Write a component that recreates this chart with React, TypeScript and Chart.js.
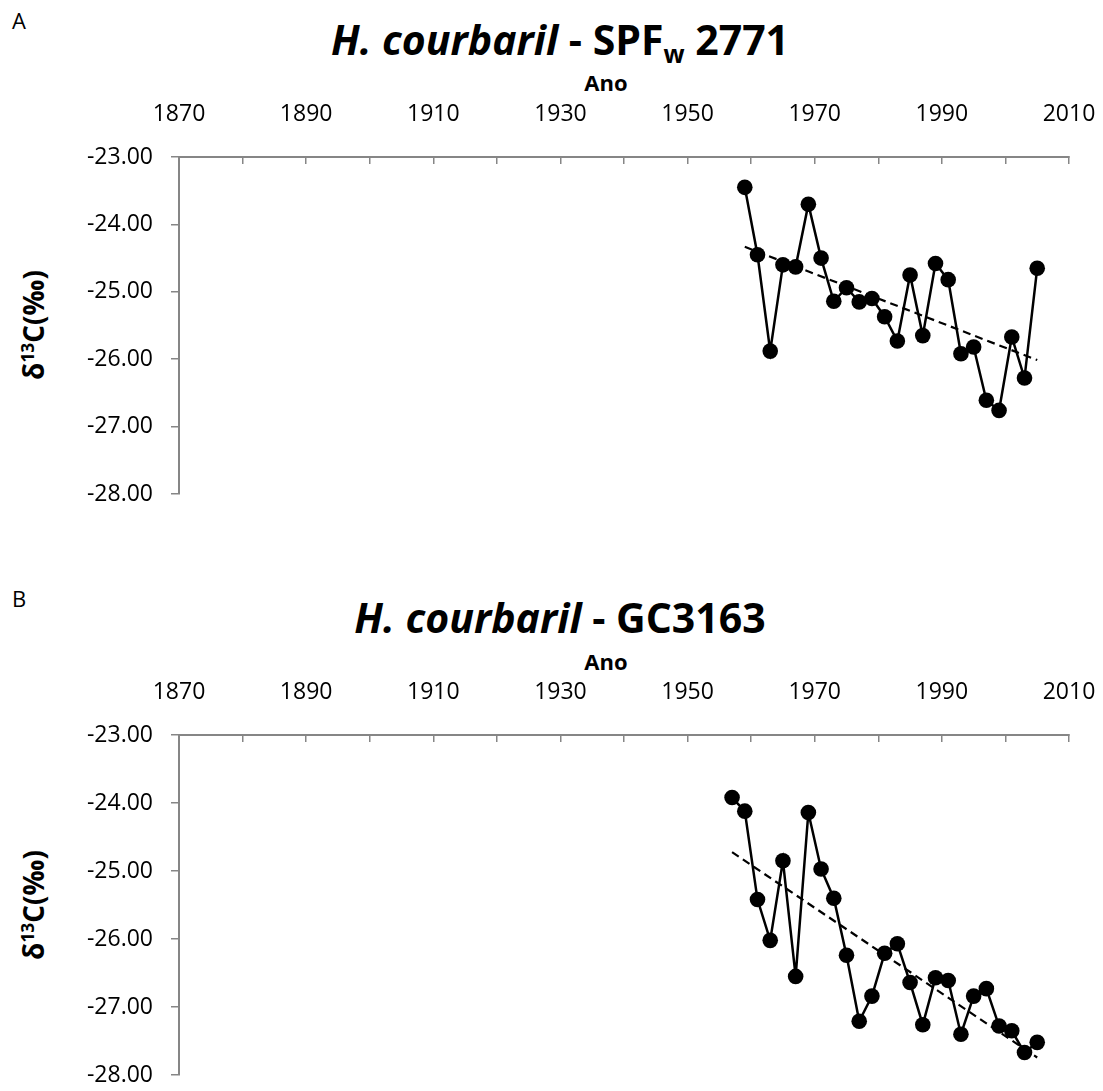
import React, { useEffect, useRef } from 'react';
import { Chart, registerables } from 'chart.js';

Chart.register(...registerables);

// ---- Data ----
const yearsA = [1959, 1961, 1963, 1965, 1967, 1969, 1971, 1973, 1975, 1977, 1979, 1981, 1983, 1985, 1987, 1989, 1991, 1993, 1995, 1997, 1999, 2001, 2003, 2005];
const valuesA = [-23.45, -24.45, -25.88, -24.6, -24.63, -23.7, -24.5, -25.14, -24.94, -25.15, -25.1, -25.37, -25.73, -24.75, -25.65, -24.58, -24.82, -25.92, -25.82, -26.61, -26.76, -25.67, -26.28, -24.65];

const yearsB = [1957, 1959, 1961, 1963, 1965, 1967, 1969, 1971, 1973, 1975, 1977, 1979, 1981, 1983, 1985, 1987, 1989, 1991, 1993, 1995, 1997, 1999, 2001, 2003, 2005];
const valuesB = [-23.92, -24.12, -25.42, -26.02, -24.85, -26.55, -24.14, -24.97, -25.4, -26.24, -27.21, -26.84, -26.21, -26.07, -26.64, -27.26, -26.57, -26.61, -27.4, -26.84, -26.73, -27.28, -27.35, -27.67, -27.52];

const xTickLabels = ['1870', '1890', '1910', '1930', '1950', '1970', '1990', '2010'];
const xMin = 1870;
const xMax = 2010;
const xStep = 10;
const yMin = -28;
const yMax = -23;
const yStep = 1;

const AXIS_GRAY = '#868686';
const FONT = '"Open Sans", "DejaVu Sans", sans-serif';

function linearTrend(xs: number[], ys: number[]) {
  const n = xs.length;
  const mx = xs.reduce((a, b) => a + b, 0) / n;
  const my = ys.reduce((a, b) => a + b, 0) / n;
  let sxy = 0;
  let sxx = 0;
  for (let i = 0; i < n; i++) {
    sxy += (xs[i] - mx) * (ys[i] - my);
    sxx += (xs[i] - mx) * (xs[i] - mx);
  }
  const slope = sxy / sxx;
  const b = my - slope * mx;
  const x0 = xs[0];
  const x1 = xs[n - 1];
  return [
    { x: x0, y: slope * x0 + b },
    { x: x1, y: slope * x1 + b },
  ];
}

type PanelProps = { years: number[]; values: number[]; top: number; height: number };

function Panel({ years, values, top, height }: PanelProps) {
  const ref = useRef<HTMLCanvasElement>(null);
  useEffect(() => {
    if (!ref.current) return;
    const pts = years.map((x, i) => ({ x, y: values[i] }));
    const trend = linearTrend(years, values);
    const chart = new Chart(ref.current, {
      type: 'scatter',
      data: {
        datasets: [
          {
            data: trend,
            showLine: true,
            borderColor: '#000',
            borderWidth: 2.2,
            borderDash: [8, 5],
            pointRadius: 0,
            pointHoverRadius: 0,
            order: 0,
          },
          {
            data: pts,
            showLine: true,
            borderColor: '#000',
            borderWidth: 2.5,
            pointRadius: 7.8,
            pointHoverRadius: 7.8,
            pointBackgroundColor: '#000',
            pointBorderColor: '#000',
            pointBorderWidth: 0,
            order: 1,
          },
        ],
      },
      options: {
        responsive: false,
        animation: false,
        events: [],
        layout: { padding: { left: 0, right: 34, top: 0, bottom: 15 } },
        plugins: { legend: { display: false }, tooltip: { enabled: false }, title: { display: false } },
        scales: {
          x: {
            type: 'linear',
            position: 'top',
            min: xMin,
            max: xMax,
            ticks: {
              stepSize: xStep,
              autoSkip: false,
              maxRotation: 0,
              padding: 36,
              color: '#000',
              font: { family: FONT, size: 23 },
              callback: (v: any) => (xTickLabels.includes(String(v)) ? String(v) : ''),
            },
            grid: { drawOnChartArea: false, drawTicks: true, tickLength: -7, color: AXIS_GRAY, lineWidth: 1.5 },
            border: { color: AXIS_GRAY, width: 2 },
            afterFit: (s: any) => {
              s.height = 97;
              s.paddingLeft = 0;
              s.paddingRight = 0;
            },
          },
          y: {
            type: 'linear',
            min: yMin,
            max: yMax,
            ticks: {
              stepSize: yStep,
              padding: 18,
              color: '#000',
              font: { family: FONT, size: 23 },
              callback: (v: any) => Number(v).toFixed(2),
            },
            grid: { drawOnChartArea: false, drawTicks: true, tickLength: 8, color: AXIS_GRAY, lineWidth: 1.5 },
            border: { color: AXIS_GRAY, width: 2 },
            afterFit: (s: any) => {
              s.width = 179;
              s.paddingTop = 0;
              s.paddingBottom = 0;
            },
          },
        },
      },
    } as any);
    return () => chart.destroy();
  }, []);
  return (
    <canvas
      ref={ref}
      width={1103}
      height={height}
      style={{ position: 'absolute', left: 0, top, width: 1103, height }}
    />
  );
}

const textBase: React.CSSProperties = {
  position: 'absolute',
  fontFamily: FONT,
  color: '#000',
  lineHeight: 1,
  whiteSpace: 'nowrap',
};

function Title({ top, children }: { top: number; children: React.ReactNode }) {
  return (
    <div style={{ ...textBase, top, left: 0, width: 1120, textAlign: 'center', fontSize: 41, fontWeight: 700 }}>
      {children}
    </div>
  );
}

function YTitle({ cy }: { cy: number }) {
  return (
    <div
      style={{
        ...textBase,
        left: 33 - 150,
        top: cy - 14,
        width: 300,
        height: 28,
        textAlign: 'center',
        fontSize: 28,
        fontWeight: 700,
        transform: 'rotate(-90deg)',
        transformOrigin: '150px 14px',
      }}
    >
      δ<span style={{ fontSize: '0.62em', position: 'relative', top: '-0.55em' }}>13</span>C(‰)
    </div>
  );
}

function Ano({ top }: { top: number }) {
  return (
    <div style={{ ...textBase, top, left: 506, width: 200, textAlign: 'center', fontSize: 22, fontWeight: 700 }}>Ano</div>
  );
}

export default function App() {
  return (
    <div style={{ position: 'absolute', left: 0, top: 0, width: 1103, height: 1091, overflow: 'hidden', background: '#fff' }}>
      <div style={{ ...textBase, left: 12, top: 8.5, fontSize: 22 }}>A</div>
      <Title top={18.6}>
        <i>H. courbaril</i> - SPF
        <span style={{ fontSize: '0.6em', position: 'relative', top: '0.35em' }}>w</span> 2771
      </Title>
      <Ano top={71.4} />
      <YTitle cy={325} />
      <Panel years={yearsA} values={valuesA} top={60} height={449} />

      <div style={{ ...textBase, left: 12, top: 586.5, fontSize: 22 }}>B</div>
      <Title top={597}>
        <i>H. courbaril</i> - GC3163
      </Title>
      <Ano top={649.6} />
      <YTitle cy={905} />
      <Panel years={yearsB} values={valuesB} top={638} height={452} />
    </div>
  );
}
